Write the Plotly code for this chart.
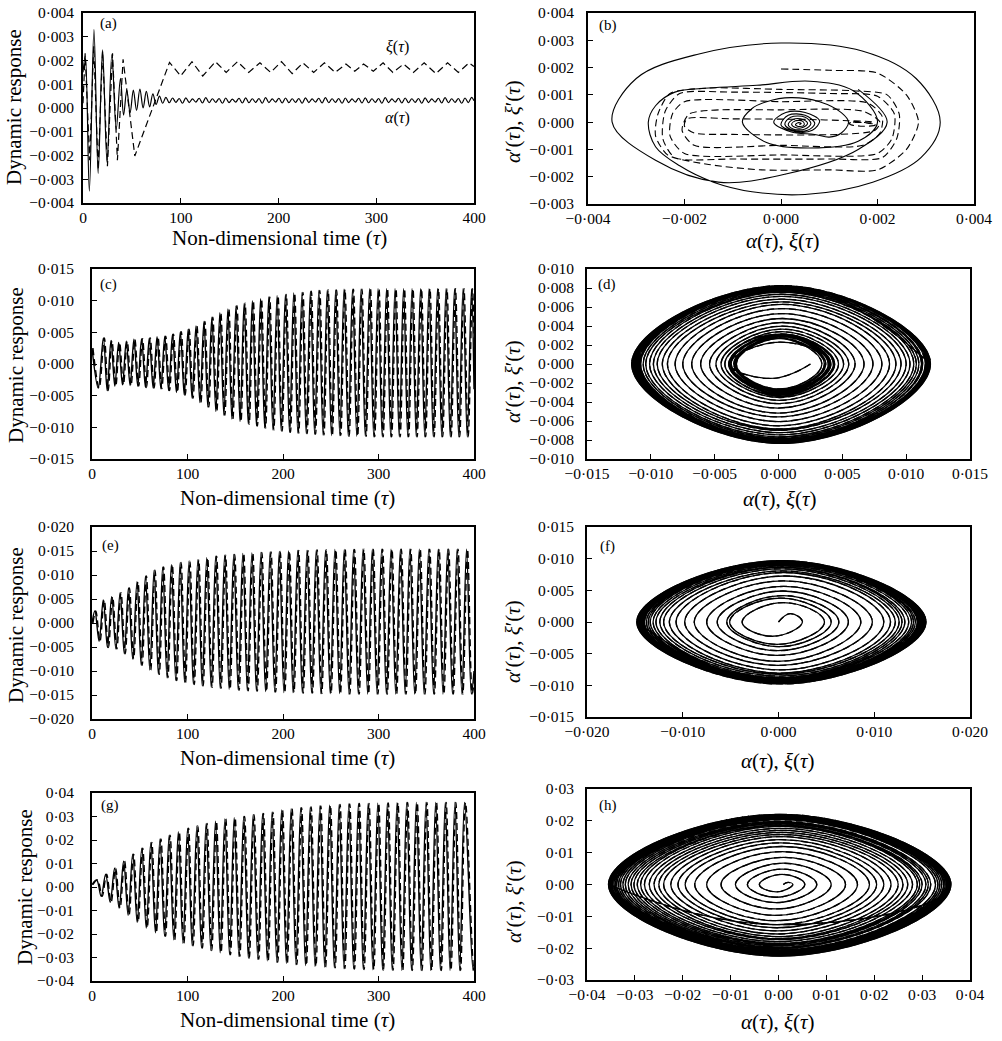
import numpy as np
import plotly.graph_objects as go

W, H = 1002, 1041
FONT = "Liberation Serif"

# ===================== DATA (response values in units of 1e-3) =====================
# (a) alpha: early transient extrema, then small wiggles
a_alpha_head_tau = [0.0, 2.4, 6.5, 11.2, 15.5, 20.0, 24.6, 29.5, 34.0, 38.3, 41.5, 44.8, 48.2, 51.5,
                    54.8, 58.2, 61.5, 64.8, 68.2, 71.5, 74.8, 78.2, 81.5]
a_alpha_head_val = [1.5, 2.2, -3.5, 3.3, -2.75, 2.45, -2.3, 2.25, -0.9, 1.25, -0.3, 0.75, -0.2, 0.75,
                    -0.1, 0.8, 0.0, 0.7, 0.05, 0.6, 0.15, 0.5, 0.2]
a_alpha_tail_tau = [84.8, 88.2, 91.6, 95.0, 98.4, 101.8, 105.2, 108.6, 112.0, 115.4, 118.8, 122.2, 125.6,
                    129.0, 132.4, 135.8, 139.2, 142.6, 146.0, 149.4, 152.8, 156.2, 159.6, 163.0, 166.4,
                    169.8, 173.2, 176.6, 180.0, 183.4, 186.8, 190.2, 193.6, 197.0, 200.4, 203.8, 207.2,
                    210.6, 214.0, 217.4, 220.8, 224.2, 227.6, 231.0, 234.4, 237.8, 241.2, 244.6, 248.0,
                    251.4, 254.8, 258.2, 261.6, 265.0, 268.4, 271.8, 275.2, 278.6, 282.0, 285.4, 288.8,
                    292.2, 295.6, 299.0, 302.4, 305.8, 309.2, 312.6, 316.0, 319.4, 322.8, 326.2, 329.6,
                    333.0, 336.4, 339.8, 343.2, 346.6, 350.0, 353.4, 356.8, 360.2, 363.6, 367.0, 370.4,
                    373.8, 377.2, 380.6, 384.0, 387.4, 390.8, 394.2, 397.6]
a_alpha_tail_val = [0.45, 0.22, 0.42, 0.24, 0.40, 0.20, 0.43, 0.23, 0.38, 0.25, 0.41, 0.21, 0.44, 0.22,
                    0.39, 0.24, 0.40, 0.20, 0.42, 0.23, 0.37, 0.25, 0.41, 0.21, 0.43, 0.22, 0.39, 0.24,
                    0.40, 0.20, 0.44, 0.23, 0.38, 0.25, 0.41, 0.21, 0.42, 0.22, 0.39, 0.24, 0.40, 0.20,
                    0.43, 0.23, 0.38, 0.25, 0.41, 0.21, 0.44, 0.22, 0.39, 0.24, 0.40, 0.20, 0.42, 0.23,
                    0.38, 0.25, 0.41, 0.21, 0.43, 0.22, 0.39, 0.24, 0.40, 0.20, 0.44, 0.23, 0.38, 0.25,
                    0.41, 0.21, 0.42, 0.22, 0.39, 0.24, 0.40, 0.20, 0.43, 0.23, 0.38, 0.25, 0.41, 0.21,
                    0.44, 0.22, 0.39, 0.24, 0.40, 0.20, 0.42, 0.23, 0.45]
a_xi_tau = [0.0, 2.2, 6.8, 11.0, 15.5, 20.0, 25.0, 30.2, 35.2, 41.0, 53.0, 88.5, 100.0, 111.5, 122.5,
            135.5, 146.5, 158.0, 169.5, 181.0, 192.0, 203.0, 214.0, 225.0, 236.0, 247.0, 258.0, 269.0,
            278.0, 287.0, 297.0, 307.0, 317.0, 328.0, 338.0, 349.0, 361.0, 373.0, 384.0, 395.0, 400.0]
a_xi_val = [0.2, 2.3, -2.2, 2.6, -2.6, 2.4, -2.45, 2.3, -2.2, 2.05, -2.02, 1.92, 1.35, 1.95, 1.35,
            1.95, 1.5, 1.95, 1.5, 1.9, 1.5, 1.95, 1.45, 1.9, 1.5, 1.9, 1.5, 1.85, 1.55, 1.85, 1.55,
            1.9, 1.5, 1.85, 1.5, 1.9, 1.45, 1.9, 1.5, 1.9, 1.75]

# (b) phase-plane paths
b_alpha_x = [1.6, 2.2, 1.6, 0.1, -1.3, -2.6, -3.5, -3.0, -1.7, 0.0, 1.7, 2.8, 3.3, 2.9, 1.9, 0.5, -0.6,
             -1.4, -2.1, -2.6, -2.75, -2.6, -2.2, -1.5, -0.5, 0.6, 1.5, 2.0, 1.6, 0.6, -0.3, -0.8, -0.6,
             -0.3, 0.2, 0.8, 1.25, 1.4, 1.25, 1.0, 0.7, 0.2, -0.15, 0.1, 0.5, 0.8, 0.65, 0.3, 0.0, 0.15,
             0.5, 0.7, 0.55, 0.25, 0.08, 0.2, 0.5, 0.62, 0.5, 0.25, 0.15, 0.25, 0.45, 0.55, 0.45, 0.3,
             0.22, 0.3, 0.45, 0.48, 0.38, 0.3, 0.35, 0.42, 0.38]
b_alpha_y = [1.2, 0.0, -1.0, -1.9, -2.2, -1.4, 0.0, 1.6, 2.5, 2.9, 2.6, 1.6, 0.0, -1.3, -2.2, -2.65, -2.55,
             -2.2, -1.6, -0.9, 0.0, 0.6, 1.1, 1.25, 1.35, 1.5, 1.15, 0.0, -0.7, -0.95, -0.75, 0.0, 0.5,
             0.75, 0.9, 0.75, 0.35, 0.0, -0.4, -0.55, -0.45, -0.35, 0.0, 0.35, 0.35, 0.05, -0.3, -0.35,
             -0.1, 0.25, 0.25, -0.05, -0.3, -0.3, -0.08, 0.18, 0.18, -0.05, -0.25, -0.25, -0.08, 0.1,
             0.1, -0.05, -0.2, -0.2, -0.08, 0.05, 0.03, -0.1, -0.16, -0.1, -0.02, -0.05, -0.1]
b_xi_x = [0.0, 1.0, 2.0, 2.6, 2.85, 2.6, 2.0, 1.0, -0.4, -1.5, -2.35, -2.6, -2.55, -2.3, -1.5, 0.0, 1.5,
          2.2, 2.45, 2.4, 2.1, 1.0, -1.0, -2.2, -2.45, -2.4, -2.1, -1.0, 1.0, 2.0, 2.35, 2.3, 2.0, 0.0,
          -2.0, -2.3, -2.25, -2.0, 0.0, 1.8, 2.1, 2.05, 1.7, 0.0, -1.8, -2.05, -1.9, 0.0, 1.7, 2.05,
          1.95, 1.2, -1.0, -1.8, -2.0, -1.95, -1.0, 0.5, 1.4, 1.9, 1.95, 1.7, 1.45, 1.4, 1.6, 1.9, 1.95,
          1.7, 1.45, 1.42, 1.65, 1.9]
b_xi_y = [1.95, 1.9, 1.8, 1.0, 0.0, -1.0, -1.75, -1.75, -1.75, -1.55, -1.2, -0.5, 0.3, 1.05, 1.25, 1.2,
          1.15, 1.0, 0.3, -0.6, -1.3, -1.35, -1.35, -1.3, -0.6, 0.4, 1.05, 1.1, 1.05, 0.95, 0.3, -0.6,
          -1.15, -1.2, -1.15, -0.5, 0.3, 0.75, 0.75, 0.7, 0.2, -0.4, -0.85, -0.85, -0.85, -0.3, 0.3,
          0.45, 0.4, 0.0, -0.3, -0.45, -0.45, -0.4, -0.15, 0.12, 0.12, 0.1, 0.05, 0.0, -0.1, -0.15,
          -0.1, -0.02, 0.0, -0.05, -0.12, -0.15, -0.1, -0.03, -0.01, -0.06]

# (c) extrema of the time history
c_start, c_end = (0.0, 2.5), (400.0, -4.0)
c_tau_max = [11.9, 19.9, 27.9, 35.9, 43.9, 51.9, 60.0, 68.1, 76.2, 84.3, 92.5, 100.7, 108.9, 117.2, 125.5,
             133.9, 142.3, 150.8, 159.3, 167.9, 176.5, 185.1, 193.8, 202.5, 211.2, 219.9, 228.7, 237.5,
             246.3, 255.1, 263.9, 272.8, 281.7, 290.6, 299.5, 308.4, 317.3, 326.2, 335.1, 344.0, 352.9,
             361.8, 370.7, 379.6, 388.5, 397.4]
c_val_max = [4.1, 3.7, 3.4, 3.6, 3.9, 4.0, 4.1, 4.3, 4.4, 4.7, 5.1, 5.5, 6.0, 6.7, 7.4, 8.1, 8.7, 9.2,
             9.6, 10.0, 10.3, 10.6, 10.8, 11.0, 11.2, 11.3, 11.5, 11.6, 11.7, 11.7, 11.8, 11.8, 11.8,
             11.9, 11.9, 11.9, 11.9, 11.9, 11.9, 11.9, 11.9, 11.9, 11.9, 11.9, 11.9, 11.9]
c_tau_min = [6.5, 15.9, 23.9, 31.9, 39.9, 47.9, 56.0, 64.0, 72.1, 80.2, 88.4, 96.6, 104.8, 113.0, 121.3,
             129.7, 138.1, 146.5, 155.0, 163.6, 172.2, 180.8, 189.4, 198.1, 206.8, 215.5, 224.3, 233.1,
             241.9, 250.7, 259.5, 268.3, 277.2, 286.1, 295.0, 303.9, 312.8, 321.7, 330.6, 339.5, 348.4,
             357.3, 366.2, 375.1, 384.0, 392.9]
c_val_min = [-3.8, -4.2, -3.5, -3.3, -3.4, -3.5, -3.7, -3.8, -3.9, -4.2, -4.5, -4.9, -5.4, -6.1, -6.8,
             -7.5, -8.1, -8.7, -9.1, -9.5, -9.8, -10.1, -10.4, -10.6, -10.8, -10.9, -11.0, -11.1, -11.2,
             -11.3, -11.3, -11.4, -11.4, -11.4, -11.5, -11.5, -11.5, -11.5, -11.5, -11.5, -11.5, -11.5,
             -11.5, -11.5, -11.5, -11.5]
c_xi_lag = 1.0

# (e)
e_start, e_end = (0.0, 0.0), (400.0, -10.0)
e_tau_max = [3.0, 11.8, 20.6, 29.4, 38.2, 47.1, 56.0, 65.0, 74.0, 83.1, 92.3, 101.5, 110.8, 120.1, 129.5,
             138.9, 148.4, 157.9, 167.4, 176.9, 186.5, 196.1, 205.7, 215.4, 225.1, 234.8, 244.5, 254.3,
             264.1, 273.9, 283.7, 293.5, 303.3, 313.1, 322.9, 332.8, 342.7, 352.6, 362.5, 372.4, 382.3,
             392.2]
e_val_max = [2.5, 4.8, 5.5, 6.3, 7.3, 8.6, 9.8, 11.0, 11.7, 12.2, 12.6, 12.9, 13.2, 13.6, 13.9, 14.1, 14.3,
             14.5, 14.6, 14.7, 14.8, 14.9, 15.0, 15.1, 15.1, 15.2, 15.2, 15.3, 15.3, 15.3, 15.4, 15.4,
             15.4, 15.4, 15.4, 15.4, 15.4, 15.4, 15.4, 15.4, 15.4, 15.4]
e_tau_min = [7.4, 16.2, 25.0, 33.8, 42.6, 51.5, 60.5, 69.5, 78.5, 87.7, 96.9, 106.1, 115.4, 124.8, 134.2,
             143.6, 153.1, 162.6, 172.1, 181.7, 191.3, 200.9, 210.5, 220.2, 229.9, 239.6, 249.4, 259.2,
             269.0, 278.8, 288.6, 298.4, 308.2, 318.0, 327.9, 337.8, 347.7, 357.6, 367.5, 377.4, 387.3,
             397.2]
e_val_min = [-3.8, -5.1, -5.4, -6.4, -7.5, -8.8, -9.8, -10.7, -11.4, -12.0, -12.4, -12.8, -13.1, -13.4,
             -13.6, -13.8, -14.0, -14.1, -14.2, -14.3, -14.4, -14.5, -14.5, -14.6, -14.6, -14.7, -14.7,
             -14.7, -14.8, -14.8, -14.8, -14.8, -14.8, -14.8, -14.8, -14.8, -14.8, -14.8, -14.8, -14.8,
             -14.8, -14.8]
e_xi_lag = 1.0

# (g)
g_start, g_end = (0.0, 1.0), (400.0, -34.0)
g_tau_max = [4.9, 14.3, 23.7, 33.1, 42.6, 52.1, 61.6, 71.2, 80.8, 90.4, 100.1, 109.8, 119.5, 129.3, 139.1,
             148.9, 158.8, 168.7, 178.6, 188.5, 198.5, 208.5, 218.5, 228.5, 238.6, 248.7, 258.8, 268.9,
             279.0, 289.1, 299.2, 309.3, 319.4, 329.5, 339.6, 349.7, 359.8, 369.9, 380.0, 390.1]
g_val_max = [3.0, 5.5, 8.0, 11.0, 14.0, 16.5, 19.0, 20.5, 22.0, 23.5, 25.0, 26.0, 27.0, 28.0, 29.0, 29.5,
             30.0, 30.8, 31.3, 31.8, 32.8, 33.3, 33.7, 34.1, 34.5, 34.8, 35.1, 35.3, 35.5, 35.6, 35.7,
             35.8, 35.9, 36.0, 36.0, 36.0, 36.0, 36.0, 36.0, 36.0]
g_tau_min = [9.6, 19.0, 28.4, 37.8, 47.3, 56.8, 66.4, 76.0, 85.6, 95.2, 104.9, 114.6, 124.4, 134.2, 144.0,
             153.8, 163.7, 173.6, 183.5, 193.5, 203.5, 213.5, 223.5, 233.5, 243.6, 253.7, 263.8, 273.9,
             284.0, 294.1, 304.2, 314.3, 324.4, 334.5, 344.6, 354.7, 364.8, 374.9, 385.0, 399.0]
g_val_min = [-4.0, -6.5, -9.0, -12.0, -15.0, -17.5, -19.5, -21.0, -22.5, -24.0, -25.0, -26.0, -27.0, -28.0,
             -28.8, -29.5, -30.2, -30.8, -31.4, -32.0, -32.5, -33.0, -33.4, -33.8, -34.1, -34.4, -34.7,
             -34.9, -35.1, -35.2, -35.3, -35.4, -35.5, -35.5, -35.5, -35.5, -35.5, -35.5, -35.5, -35.5]
g_xi_lag = 1.0

# ===================== HELPERS =====================
SCALE = 1e-3


def merge_extrema(start, tmax, vmax, tmin, vmin, end):
    pts = [start] + list(zip(tmax, vmax)) + list(zip(tmin, vmin)) + [end]
    pts.sort(key=lambda p: p[0])
    return [p[0] for p in pts], [p[1] * SCALE for p in pts]


def phase_from_history(ts, xs):
    """Phase-plane path (x, dx/dtau) derived from successive extrema of the time history."""
    px, py = [xs[0]], [0.0]
    for k in range(len(xs) - 1):
        dt = ts[k + 1] - ts[k]
        px += [(xs[k] + xs[k + 1]) / 2.0, xs[k + 1]]
        py += [(xs[k + 1] - xs[k]) / dt * np.pi / 2.0, 0.0]
    return px, py


def fmt(v, nd):
    s = f"{abs(v):.{nd}f}".replace(".", "\u00b7")
    if v < -1e-12:
        s = "\u2212" + s
    return s


def ticks(lo, hi, step):
    n = int(round((hi - lo) / step))
    return [lo + i * step for i in range(n + 1)]


def pxx(p):
    return p / W


def pxy(p):
    return 1 - p / H


# ===================== FIGURE =====================
fig = go.Figure()

# panel boxes in window pixels: left, top, right, bottom ; y tick-label standoff
boxes = {
    1: ((83, 13, 474, 203), 4), 2: ((588, 13, 974, 204), 9),
    3: ((92, 269, 474, 459), 13), 4: ((587, 269, 970, 459), 8),
    5: ((92, 527, 474, 719), 13), 6: ((587, 527, 970, 717), 8),
    7: ((92, 793, 474, 981), 13), 8: ((587, 789, 970, 980), 8),
}
axes_spec = {
    1: ((0, 400), ticks(0, 400, 100), 0, (-0.004, 0.004), ticks(-0.004, 0.004, 0.001), 3),
    2: ((-0.004, 0.004), ticks(-0.004, 0.004, 0.002), 3, (-0.003, 0.004), ticks(-0.003, 0.004, 0.001), 3),
    3: ((0, 400), ticks(0, 400, 100), 0, (-0.015, 0.015), ticks(-0.015, 0.015, 0.005), 3),
    4: ((-0.015, 0.015), ticks(-0.015, 0.015, 0.005), 3, (-0.010, 0.010), ticks(-0.010, 0.010, 0.002), 3),
    5: ((0, 400), ticks(0, 400, 100), 0, (-0.020, 0.020), ticks(-0.020, 0.020, 0.005), 3),
    6: ((-0.020, 0.020), ticks(-0.020, 0.020, 0.010), 3, (-0.015, 0.015), ticks(-0.015, 0.015, 0.005), 3),
    7: ((0, 400), ticks(0, 400, 100), 0, (-0.04, 0.04), ticks(-0.04, 0.04, 0.01), 2),
    8: ((-0.04, 0.04), ticks(-0.04, 0.04, 0.01), 2, (-0.03, 0.03), ticks(-0.03, 0.03, 0.01), 2),
}

layout_axes = {}
for i, ((l, t, r, b), ystand) in boxes.items():
    xr, xt, xnd, yr, yt, ynd = axes_spec[i]
    common = dict(ticks="inside", ticklen=5, tickwidth=1, tickcolor="black", showline=True,
                  linecolor="black", linewidth=1.6, mirror=True, showgrid=False, zeroline=False,
                  automargin=False, tickfont=dict(family=FONT, size=15.5, color="black"))
    sx = "" if i == 1 else str(i)
    layout_axes["xaxis" + sx] = dict(domain=[pxx(l), pxx(r)], range=list(xr), tickvals=xt,
                                      ticktext=[fmt(v, xnd) for v in xt], anchor="y" + sx,
                                      ticklabelstandoff=0, **common)
    layout_axes["yaxis" + sx] = dict(domain=[pxy(b), pxy(t)], range=list(yr), tickvals=yt,
                                      ticktext=[fmt(v, ynd) for v in yt], anchor="x" + sx,
                                      ticklabelstandoff=ystand, **common)

SOLID = dict(color="black", width=1.4)
DASH = dict(color="black", width=1.4, dash="7px,4px")


def add(x, y, i, line, shape="spline", smoothing=1.0):
    sx = "" if i == 1 else str(i)
    ln = dict(line)
    ln["shape"] = shape
    if shape == "spline":
        ln["smoothing"] = smoothing
    fig.add_trace(go.Scatter(x=x, y=y, mode="lines", line=ln, xaxis="x" + sx, yaxis="y" + sx,
                             showlegend=False, hoverinfo="skip"))


# (a)
a_tau = a_alpha_head_tau + a_alpha_tail_tau + [400.0]
a_val = [v * SCALE for v in a_alpha_head_val + a_alpha_tail_val + [0.3]]
add(a_tau, a_val, 1, dict(color="black", width=1.2), "spline", 1.0)
add(a_xi_tau, [v * SCALE for v in a_xi_val], 1, dict(color="black", width=1.2, dash="7px,4px"), "linear")

# (b)
add([v * SCALE for v in b_alpha_x], [v * SCALE for v in b_alpha_y], 2, dict(color="black", width=1.1),
    "spline", 1.0)
add([v * SCALE for v in b_xi_x], [v * SCALE for v in b_xi_y], 2,
    dict(color="black", width=1.1, dash="7px,4px"), "spline", 0.7)

# (c)-(h)
for (i_ts, i_ph, start, tmax, vmax, tmin, vmin, end, lag) in [
        (3, 4, c_start, c_tau_max, c_val_max, c_tau_min, c_val_min, c_end, c_xi_lag),
        (5, 6, e_start, e_tau_max, e_val_max, e_tau_min, e_val_min, e_end, e_xi_lag),
        (7, 8, g_start, g_tau_max, g_val_max, g_tau_min, g_val_min, g_end, g_xi_lag)]:
    ts, xs = merge_extrema(start, tmax, vmax, tmin, vmin, end)
    add(ts, xs, i_ts, SOLID, "spline", 1.0)
    add([t + lag for t in ts], xs, i_ts, DASH, "spline", 1.0)
    # phase plane from the extrema only (drop the open end point)
    px, py = phase_from_history(ts[:-1], xs[:-1])
    add(px, py, i_ph, dict(color="black", width=1.3), "spline", 1.3)
    add(px, py, i_ph, dict(color="black", width=1.3, dash="7px,4px"), "spline", 1.3)

# ===================== TEXT =====================
ann = []


def text(px, py, s, size, angle=0):
    ann.append(dict(x=pxx(px), y=pxy(py), xref="paper", yref="paper", text=s, showarrow=False,
                    xanchor="center", yanchor="middle", textangle=angle,
                    font=dict(family=FONT, size=size, color="black")))


for lab, (px, py) in zip("abcdefgh", [(108, 24), (608, 25), (108, 285), (607, 284), (110, 545),
                                       (607, 546), (110, 805), (608, 805)]):
    text(px, py, f"({lab})", 15)

TIME_T = "Non-dimensional time (<i>\u03c4</i>)"
DYN_T = "Dynamic response"
PX_T = "<i>\u03b1</i>(<i>\u03c4</i>), <i>\u03be</i>(<i>\u03c4</i>)"
PY_T = "<i>\u03b1</i>\u2032(<i>\u03c4</i>), <i>\u03be</i>\u2032(<i>\u03c4</i>)"

for (xt, yt) in [((279, 238), (14, 107)), ((287, 498), (16, 365)), ((287, 758), (16, 625)),
                 ((287, 1020), (25, 887))]:
    text(*xt, TIME_T, 21)
    text(*yt, DYN_T, 21, -90)
for (xt, yt) in [((783, 241), (513, 122)), ((780, 499), (513, 382)), ((778, 761), (513, 642)),
                 ((778, 1022), (514, 902))]:
    text(*xt, PX_T, 21)
    text(*yt, PY_T, 21, -90)

text(397, 47, "<i>\u03be</i>(<i>\u03c4</i>)", 16)
text(397, 118, "<i>\u03b1</i>(<i>\u03c4</i>)", 16)

fig.update_layout(width=W, height=H, margin=dict(l=0, r=0, t=0, b=0, autoexpand=False),
                  paper_bgcolor="white", plot_bgcolor="white", showlegend=False, annotations=ann,
                  **layout_axes)
fig.write_html("out.html", config={"displayModeBar": False},
               post_script="document.body.style.margin='0';"
                           "document.documentElement.style.overflow='hidden';")
